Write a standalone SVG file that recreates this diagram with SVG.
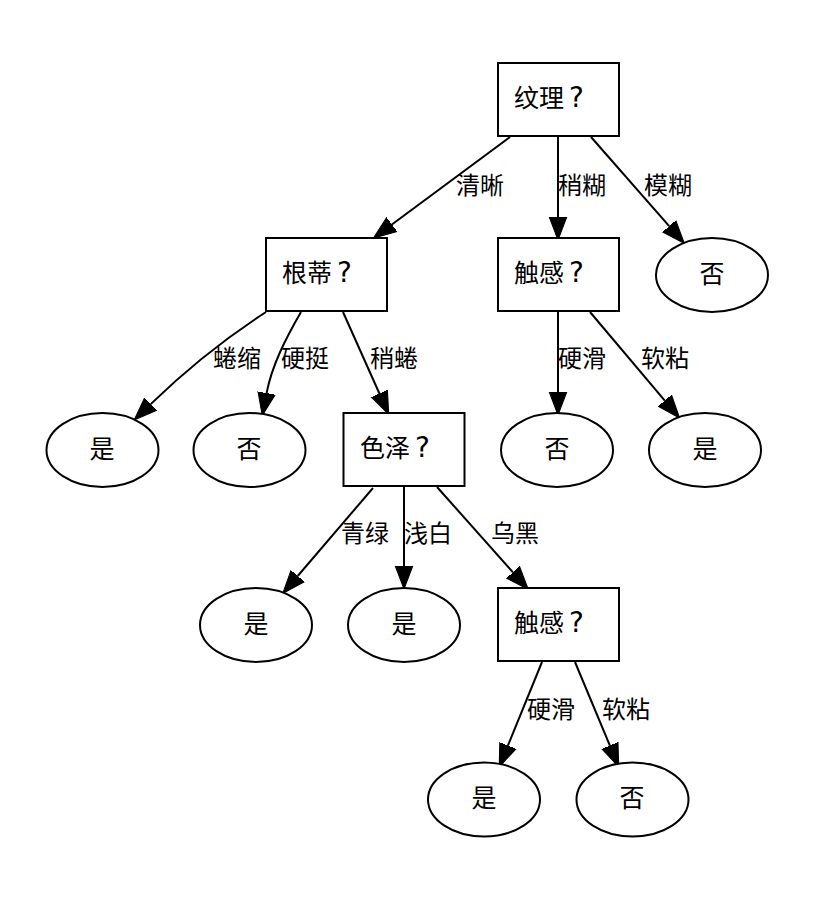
<svg xmlns="http://www.w3.org/2000/svg" width="820" height="898" viewBox="0 0 820 898">
<defs>
<marker id="arr" markerUnits="userSpaceOnUse" markerWidth="24" markerHeight="20" refX="0" refY="8" orient="auto" viewBox="0 0 22 16">
<path d="M0,0 L21,8 L0,16 z" fill="#000" stroke="#000" stroke-width="1"/>
</marker>
<style>
.box{fill:#fff;stroke:#000;stroke-width:2}
.leaf{fill:#fff;stroke:#000;stroke-width:2}
.t{font-family:"Noto Sans CJK SC","Noto Sans",sans-serif;font-size:25px;fill:#000}
.q{font-family:"DejaVu Sans","Noto Sans CJK SC",sans-serif;font-size:28px}
.m{text-anchor:middle}
.e{fill:none;stroke:#000;stroke-width:2;marker-end:url(#arr)}
.lbl{font-family:"Noto Sans CJK SC","Noto Sans",sans-serif;font-size:24px;fill:#000}
</style>
</defs>
<rect width="820" height="898" fill="#fff"/>
<g id="connectors">
<path class="e" d="M510,137 L391.9,224.5"/>
<path class="e" d="M558,137 L558,217"/>
<path class="e" d="M591,137 L669.2,226.2"/>
<path class="e" d="M266,312 C232,334 190,366 150.7,404.1"/>
<path class="e" d="M301,312 C286,338 272,365 266.6,393.1"/>
<path class="e" d="M343,312 L379.4,393.5"/>
<path class="e" d="M558,312 L558,392"/>
<path class="e" d="M590,312 L664.8,400.6"/>
<path class="e" d="M373,488 L297.7,576"/>
<path class="e" d="M404,487 L404,566"/>
<path class="e" d="M437,487 L513,572.3"/>
<path class="e" d="M542,662 L507.9,745.6"/>
<path class="e" d="M575,662 L609.9,745.6"/>
<text class="lbl" x="456" y="194">清晰</text>
<text class="lbl" x="558" y="194">稍糊</text>
<text class="lbl" x="644" y="194">模糊</text>
<text class="lbl" x="213" y="367">蜷缩</text>
<text class="lbl" x="281" y="367">硬挺</text>
<text class="lbl" x="370" y="367">稍蜷</text>
<text class="lbl" x="558" y="367">硬滑</text>
<text class="lbl" x="641" y="367">软粘</text>
<text class="lbl" x="341" y="542">青绿</text>
<text class="lbl" x="404" y="542">浅白</text>
<text class="lbl" x="491" y="542">乌黑</text>
<text class="lbl" x="527" y="718">硬滑</text>
<text class="lbl" x="602" y="718">软粘</text>
</g>
<g id="n-texture"><rect class="box" x="498" y="63" width="121" height="73"/><text class="t" x="514" y="107">纹理<tspan class="q" dx="5">?</tspan></text></g>
<g id="n-root"><rect class="box" x="266" y="238" width="121" height="73"/><text class="t" x="282" y="282">根蒂<tspan class="q" dx="5">?</tspan></text></g>
<g id="n-touch1"><rect class="box" x="498" y="238" width="121" height="73"/><text class="t" x="514" y="282">触感<tspan class="q" dx="5">?</tspan></text></g>
<g id="n-no1"><ellipse class="leaf" cx="712" cy="275" rx="56" ry="37"/><text class="t m" x="712" y="283">否</text></g>
<g id="n-yes1"><ellipse class="leaf" cx="102.5" cy="450" rx="56" ry="37"/><text class="t m" x="102" y="458">是</text></g>
<g id="n-no2"><ellipse class="leaf" cx="249.5" cy="450" rx="56" ry="37"/><text class="t m" x="249" y="458">否</text></g>
<g id="n-color"><rect class="box" x="343.5" y="413" width="121" height="73"/><text class="t" x="360" y="457">色泽<tspan class="q" dx="5">?</tspan></text></g>
<g id="n-no3"><ellipse class="leaf" cx="557" cy="450" rx="56" ry="37"/><text class="t m" x="557" y="458">否</text></g>
<g id="n-yes2"><ellipse class="leaf" cx="705" cy="450" rx="56" ry="37"/><text class="t m" x="705" y="458">是</text></g>
<g id="n-yes3"><ellipse class="leaf" cx="256" cy="625" rx="56" ry="37"/><text class="t m" x="256" y="633">是</text></g>
<g id="n-yes4"><ellipse class="leaf" cx="404" cy="625" rx="56" ry="37"/><text class="t m" x="404" y="633">是</text></g>
<g id="n-touch2"><rect class="box" x="498" y="588" width="121" height="73"/><text class="t" x="514" y="632">触感<tspan class="q" dx="5">?</tspan></text></g>
<g id="n-yes5"><ellipse class="leaf" cx="484" cy="799.5" rx="56" ry="37"/><text class="t m" x="484" y="807">是</text></g>
<g id="n-no4"><ellipse class="leaf" cx="632.5" cy="799.5" rx="56" ry="37"/><text class="t m" x="632" y="807">否</text></g>
</svg>
